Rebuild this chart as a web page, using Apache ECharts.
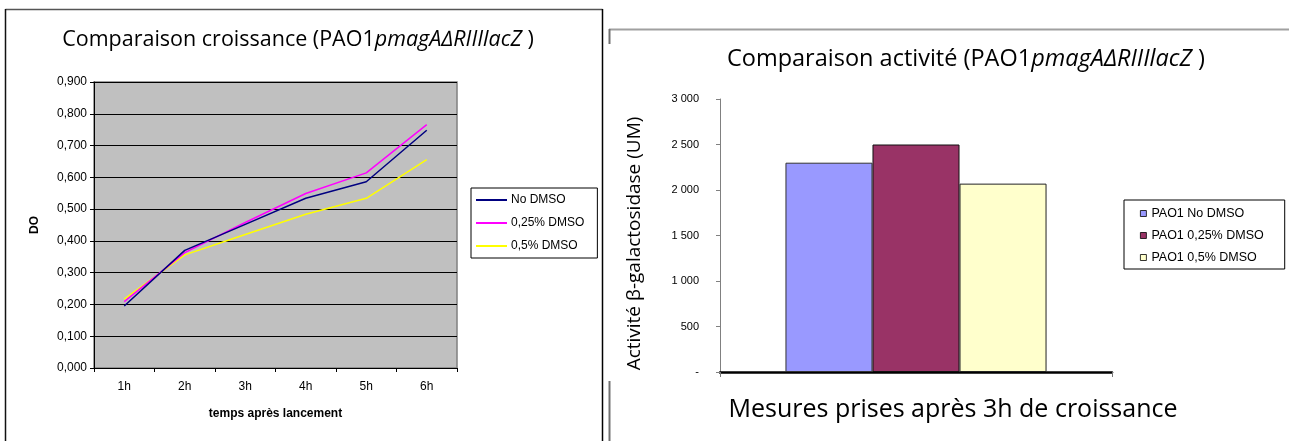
<!DOCTYPE html>
<html>
<head>
<meta charset="utf-8">
<script src="https://cdn.jsdelivr.net/npm/echarts@6/dist/echarts.min.js"></script>
<style>
html,body{margin:0;padding:0;background:#fff;}
#c{width:1289px;height:441px;}
</style>
</head>
<body>
<div id="c"></div>
<script>
// ---- Left chart data (growth, DO) ----
const hours = ['1h', '2h', '3h', '4h', '5h', '6h'];
const noDmso = [0.195, 0.370, 0.452, 0.534, 0.586, 0.748];
const dmso025 = [0.209, 0.363, 0.458, 0.549, 0.614, 0.766];
const dmso05 = [0.217, 0.356, 0.420, 0.484, 0.534, 0.656];
const lineNames = ['No DMSO', '0,25% DMSO', '0,5% DMSO'];

// ---- Right chart data (beta-galactosidase activity) ----
const barCategory = [''];
const barNames = ['PAO1 No DMSO', 'PAO1 0,25% DMSO', 'PAO1 0,5% DMSO'];
const barValues = [2300, 2500, 2070];

const chart = echarts.init(document.getElementById('c'), null, {renderer: 'canvas'});

const arial = 'Liberation Sans, Arial, sans-serif';
const calibri = 'Open Sans, sans-serif';

function fmtDO(v) { return v.toFixed(3).replace('.', ','); }
function fmtUM(v) {
  if (v === 0) return '-';
  if (v >= 1000) return Math.floor(v / 1000) + ' ' + String(v % 1000).padStart(3, '0');
  return String(v);
}

const lineColors = ['#000080', '#FF00FF', '#FFFF00'];
const barColors = ['#9999FF', '#993366', '#FFFFCC'];

function titleRich(size) {
  return {
    n: {fontFamily: calibri, fontSize: size, color: '#000', fontWeight: 'normal'},
    i: {fontFamily: calibri, fontSize: size, color: '#000', fontWeight: 'normal', fontStyle: 'italic'}
  };
}

const option = {
  animation: false,
  backgroundColor: '#ffffff',
  title: [
    {
      text: '{n|Comparaison croissance (PAO1}{i|pmagA\u2206RIIIlacZ}{n| )}',
      left: 293, top: 24, textAlign: 'center',
      textStyle: {fontWeight: 'normal', rich: titleRich(21.5)}
    },
    {
      text: '{n|Comparaison activit\u00e9 (PAO1}{i|pmagA\u2206RIIIlacZ}{n| )}',
      left: 961, top: 42, textAlign: 'center',
      textStyle: {fontWeight: 'normal', rich: titleRich(23.5)}
    }
  ],
  legend: [
    {
      data: lineNames,
      orient: 'vertical',
      left: 471, top: 188,
      backgroundColor: '#fff',
      borderColor: '#000', borderWidth: 1,
      padding: [6, 13, 6, 5],
      itemGap: 11,
      itemWidth: 31, itemHeight: 2,
      icon: 'rect',
      textStyle: {fontFamily: arial, fontSize: 12, color: '#000', padding: [0, 0, 0, -1]}
    },
    {
      data: barNames,
      orient: 'vertical',
      left: 1124, top: 200,
      backgroundColor: '#fff',
      borderColor: '#000', borderWidth: 1,
      padding: [7, 21, 5, 16],
      itemGap: 9,
      itemWidth: 6, itemHeight: 6,
      icon: 'rect',
      itemStyle: {borderColor: '#000', borderWidth: 0.8},
      textStyle: {fontFamily: arial, fontSize: 12.5, color: '#000'}
    }
  ],
  grid: [
    {left: 94, top: 82, width: 363, height: 286, show: true, backgroundColor: '#C0C0C0', borderColor: '#808080', borderWidth: 1.5},
    {left: 720, top: 99, width: 392, height: 273, show: false}
  ],
  xAxis: [
    {
      gridIndex: 0, type: 'category', data: hours, boundaryGap: true,
      axisLine: {lineStyle: {color: '#000', width: 1}},
      axisTick: {show: true, alignWithLabel: false, length: 4, lineStyle: {color: '#000'}},
      axisLabel: {fontFamily: arial, fontSize: 12, color: '#000', margin: 13},
      name: 'temps apr\u00e8s lancement', nameLocation: 'middle', nameGap: 40,
      nameTextStyle: {fontFamily: arial, fontSize: 12, fontWeight: 'bold', color: '#000'}
    },
    {
      gridIndex: 1, type: 'category', data: barCategory, boundaryGap: true,
      axisLine: {lineStyle: {color: '#000', width: 2.5}},
      axisTick: {show: true, length: 5, lineStyle: {color: '#777', width: 1}},
      axisLabel: {show: false},
      name: 'Mesures prises apr\u00e8s 3h de croissance', nameLocation: 'middle', nameGap: 25,
      nameTextStyle: {fontFamily: calibri, fontSize: 25, color: '#000', padding: [0, 0, 0, 74]}
    }
  ],
  yAxis: [
    {
      gridIndex: 0, type: 'value', min: 0, max: 0.9, interval: 0.1,
      axisLine: {show: true, lineStyle: {color: '#000'}},
      axisTick: {show: true, length: 4, lineStyle: {color: '#000'}},
      axisLabel: {fontFamily: arial, fontSize: 12, color: '#000', margin: 7, formatter: fmtDO},
      splitLine: {show: true, lineStyle: {color: '#000', width: 1}},
      name: 'DO', nameLocation: 'middle', nameGap: 53, nameRotate: 90,
      nameTextStyle: {fontFamily: arial, fontSize: 12, fontWeight: 'bold', color: '#000'}
    },
    {
      gridIndex: 1, type: 'value', min: 0, max: 3000, interval: 500,
      axisLine: {show: true, lineStyle: {color: '#808080'}},
      axisTick: {show: true, length: 4, lineStyle: {color: '#808080'}},
      axisLabel: {fontFamily: arial, fontSize: 11, color: '#000', margin: 21, formatter: fmtUM},
      splitLine: {show: false},
      name: 'Activit\u00e9 \u03b2-galactosidase (UM)', nameLocation: 'middle', nameGap: 76, nameRotate: 90,
      nameTextStyle: {fontFamily: calibri, fontSize: 19, color: '#000', padding: [0, 16, 0, 0]}
    }
  ],
  series: [
    {name: lineNames[0], type: 'line', xAxisIndex: 0, yAxisIndex: 0, data: noDmso, symbol: 'none', lineStyle: {color: lineColors[0], width: 1.5}, itemStyle: {color: lineColors[0]}, z: 4},
    {name: lineNames[1], type: 'line', xAxisIndex: 0, yAxisIndex: 0, data: dmso025, symbol: 'none', lineStyle: {color: lineColors[1], width: 1.5}, itemStyle: {color: lineColors[1]}, z: 3},
    {name: lineNames[2], type: 'line', xAxisIndex: 0, yAxisIndex: 0, data: dmso05, symbol: 'none', lineStyle: {color: lineColors[2], width: 1.5}, itemStyle: {color: lineColors[2]}, z: 2},
    {name: barNames[0], type: 'bar', xAxisIndex: 1, yAxisIndex: 1, data: [barValues[0]], barGap: '0%', barCategoryGap: '33.4%', itemStyle: {color: barColors[0], borderColor: '#333', borderWidth: 1}},
    {name: barNames[1], type: 'bar', xAxisIndex: 1, yAxisIndex: 1, data: [barValues[1]], barGap: '0%', barCategoryGap: '33.4%', itemStyle: {color: barColors[1], borderColor: '#111', borderWidth: 1}},
    {name: barNames[2], type: 'bar', xAxisIndex: 1, yAxisIndex: 1, data: [barValues[2]], barGap: '0%', barCategoryGap: '33.4%', itemStyle: {color: barColors[2], borderColor: '#222', borderWidth: 1}}
  ],
  graphic: [
    {type: 'line', shape: {x1: 5.5, y1: 9.5, x2: 602.5, y2: 9.5}, style: {stroke: '#555', lineWidth: 1.5}, silent: true},
    {type: 'line', shape: {x1: 5.5, y1: 9, x2: 5.5, y2: 441}, style: {stroke: '#111', lineWidth: 1.5}, silent: true},
    {type: 'line', shape: {x1: 602.5, y1: 9, x2: 602.5, y2: 441}, style: {stroke: '#000', lineWidth: 1.5}, silent: true},
    {type: 'line', shape: {x1: 609, y1: 29.5, x2: 1289, y2: 29.5}, style: {stroke: '#a0a0a0', lineWidth: 2}, silent: true},
    {type: 'line', shape: {x1: 609.5, y1: 29, x2: 609.5, y2: 44}, style: {stroke: '#707070', lineWidth: 2}, silent: true},
    {type: 'line', shape: {x1: 609.5, y1: 381, x2: 609.5, y2: 441}, style: {stroke: '#707070', lineWidth: 2}, silent: true}
  ]
};

chart.setOption(option);
</script>
</body>
</html>
